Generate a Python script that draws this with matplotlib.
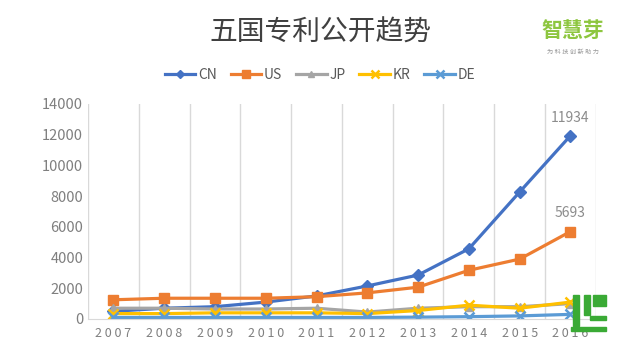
import matplotlib.pyplot as plt
import matplotlib.patches as mpatches

plt.rcParams['font.family'] = ['Noto Sans CJK SC', 'DejaVu Sans']

years = ['2007', '2008', '2009', '2010', '2011', '2012', '2013', '2014', '2015', '2016']
cn = [500, 700, 800, 1100, 1500, 2150, 2860, 4570, 8270, 11934]
us = [1250, 1350, 1350, 1350, 1450, 1700, 2070, 3170, 3900, 5693]
jp = [700, 700, 650, 650, 700, 450, 700, 800, 800, 1000]
kr = [350, 350, 400, 400, 400, 350, 550, 900, 700, 1100]
de = [100, 100, 100, 100, 100, 100, 120, 150, 200, 300]

series = [('CN', cn, '#4472C4', 'D', 6),
          ('US', us, '#ED7D31', 's', 7),
          ('JP', jp, '#A5A5A5', '^', 6),
          ('KR', kr, '#FFC000', 'x', 7),
          ('DE', de, '#5B9BD5', 'x', 7)]

fig = plt.figure(figsize=(6.4, 3.56), dpi=100)
ax = fig.add_axes([0.1375, 0.104, 0.7935, 0.604])

x = list(range(len(years)))
for name, vals, col, mk, ms in series:
    ax.plot(x, vals, color=col, marker=mk, markersize=ms, linewidth=2.3,
            markeredgewidth=1.8 if mk == 'x' else 1, label=name)

ax.annotate(str(cn[-1]), (x[-1], cn[-1]), xytext=(0, 8), textcoords='offset points',
            ha='center', va='bottom', color='#8c8c8c', fontsize=10)
ax.annotate(str(us[-1]), (x[-1], us[-1]), xytext=(0, 8), textcoords='offset points',
            ha='center', va='bottom', color='#8c8c8c', fontsize=10)

ax.set_xlim(-0.5, 9.5)
ax.set_ylim(0, 14000)
ax.set_yticks(range(0, 14001, 2000))
ax.set_xticks(x)
ax.set_xticklabels([' '.join(y) for y in years])
for v in [i - 0.5 for i in range(11)]:
    ax.axvline(v, color='#d9d9d9', linewidth=1, zorder=0)
ax.tick_params(length=0, colors='#7f7f7f', labelsize=10.5)
ax.tick_params(axis='x', pad=6, labelsize=9)
for s in ['top', 'right', 'left']:
    ax.spines[s].set_visible(False)
ax.spines['bottom'].set_color('#d9d9d9')

fig.text(0.5, 0.907, '五国专利公开趋势', ha='center', va='center',
         fontsize=20, color='#404040', fontweight='medium')
fig.legend(loc='center', bbox_to_anchor=(0.5, 0.79), ncol=5, frameon=False,
           fontsize=10, handlelength=2.2, columnspacing=1.0, handletextpad=0.2,
           markerscale=0.75, labelcolor='#595959')

fig.text(0.895, 0.915, '智慧芽', ha='center', va='center', fontsize=15,
         color='#8dc63f', fontweight='bold')
fig.text(0.895, 0.855, '为 科 技 创 新 助 力', ha='center', va='center', fontsize=4.5,
         color='#999999')

# watermark logo bottom right
logo_col = '#3aaa35'
for rx, ry, rw, rh in [(0.895, 0.085, 0.010, 0.085), (0.912, 0.115, 0.010, 0.055),
                       (0.927, 0.14, 0.020, 0.03), (0.922, 0.1, 0.025, 0.012),
                       (0.892, 0.07, 0.055, 0.012)]:
    fig.patches.append(mpatches.Rectangle((rx, ry), rw, rh, transform=fig.transFigure,
                                          color=logo_col, zorder=5))

fig.savefig('out.png', dpi=100)
